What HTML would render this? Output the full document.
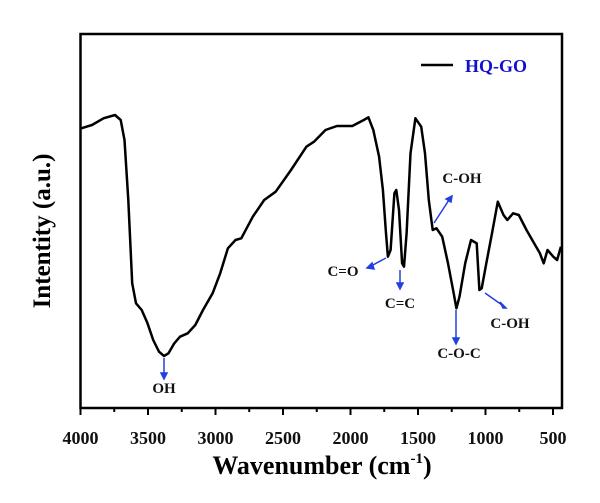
<!DOCTYPE html>
<html><head><meta charset="utf-8"><style>
html,body{margin:0;padding:0;background:#fff;}
svg{display:block;font-family:"Liberation Serif",serif;font-weight:bold;}
</style></head><body>
<svg id="s" width="600" height="503" viewBox="0 0 600 503">
<rect x="80.5" y="34" width="481.5" height="374" fill="none" stroke="#000" stroke-width="2.5"/>
<g id="ticks" stroke="#000" stroke-width="2"></g>
<g font-size="18" text-anchor="middle" fill="#111">
<text x="80.5" y="444">4000</text><text x="148" y="444">3500</text><text x="215.5" y="444">3000</text>
<text x="283" y="444">2500</text><text x="350.5" y="444">2000</text><text x="418" y="444">1500</text>
<text x="485.5" y="444">1000</text><text x="553" y="444">500</text>
</g>
<text x="322" y="474" font-size="26" text-anchor="middle">Wavenumber (cm<tspan font-size="15" dy="-11">-1</tspan><tspan dy="11">)</tspan></text>
<text transform="translate(50,231) rotate(-90)" font-size="25" text-anchor="middle">Intentity (a.u.)</text>
<line x1="421" y1="65" x2="453" y2="65" stroke="#000" stroke-width="2.5"/>
<text x="465" y="72" font-size="18" fill="#1010d0">HQ-GO</text>
<path id="curve" fill="none" stroke="#000" stroke-width="2.5" stroke-linejoin="round"/>
<g stroke="#2040e0" stroke-width="1.5" fill="#2040e0">
<line x1="164" y1="358" x2="164" y2="374"/><polygon points="161,373 167,373 164,379"/>
<line x1="386" y1="258" x2="371" y2="266"/><polygon points="372,263 374,269 367,268"/>
<line x1="400" y1="270" x2="400" y2="284"/><polygon points="397,283 403,283 400,289"/>
<line x1="434" y1="223" x2="449" y2="200"/><polygon points="446,199 451,202 452,196"/>
<line x1="456" y1="310" x2="456" y2="339"/><polygon points="453,338 459,338 456,344"/>
<line x1="485" y1="293" x2="502" y2="305"/><polygon points="500,302 503,308 506,308"/>
</g>
<g font-size="15" text-anchor="middle" fill="#111">
<text x="164" y="393">OH</text>
<text x="343" y="276">C=O</text>
<text x="400" y="308">C=C</text>
<text x="462" y="183">C-OH</text>
<text x="459" y="358">C-O-C</text>
<text x="510" y="328">C-OH</text>
</g>
</svg>
<script>
var pts=[212,385,240,375,270,355,300,345,315,360,325,420,335,600,345,850,355,910,370,930,385,970,400,1020,415,1055,428,1068,440,1060,455,1030,470,1010,490,1000,510,975,530,930,555,880,575,820,595,745,615,720,630,715,660,650,690,600,720,575,760,510,800,440,820,425,850,390,880,378,920,378,950,360,962,352,975,390,990,470,1000,570,1008,700,1013,770,1020,750,1030,580,1035,570,1042,630,1050,790,1055,800,1062,700,1072,460,1085,355,1100,380,1110,460,1120,600,1130,690,1140,685,1155,710,1170,790,1185,880,1192,925,1200,890,1215,790,1230,720,1245,730,1252,870,1258,865,1270,790,1285,700,1300,605,1315,645,1325,660,1340,640,1355,645,1375,690,1395,730,1410,760,1420,790,1430,750,1445,770,1455,780,1465,740];
var d="";for(var i=0;i<pts.length;i+=2){var X=80.5+(pts[i]-210)*0.3828,Y=pts[i+1]/3;d+=(i?"L":"M")+X.toFixed(1)+","+Y.toFixed(1);}
document.getElementById("curve").setAttribute("d",d);
var t="";for(var w=4000;w>=500;w-=250){var x=80.5+(4000-w)*0.135;var L=(w%500==0)?7:4;t+='<line x1="'+x+'" y1="408" x2="'+x+'" y2="'+(408+L)+'"/>';}
document.getElementById("ticks").innerHTML=t;
</script>
</body></html>
